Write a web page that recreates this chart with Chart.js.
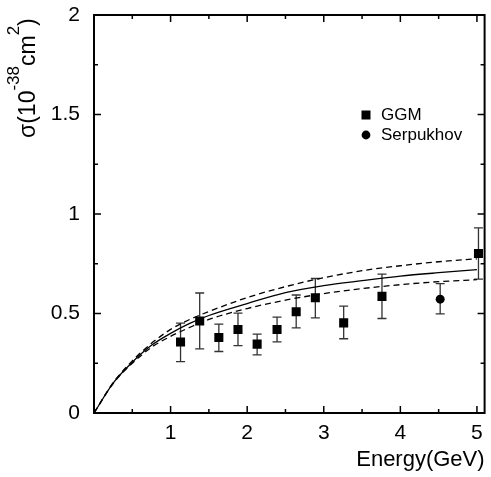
<!DOCTYPE html>
<html lang="en">

    <head>
        <meta charset="UTF-8">
        <title>Cross section vs energy</title>
        <script src="https://cdn.jsdelivr.net/npm/chart.js@4"></script>
        <style>
            body { margin: 0; background: #fff; }
            #wrap { width: 491px; height: 477px; }
        </style>
    </head>

    <body>
        <div id="wrap"><canvas id="sigmaChart"></canvas></div>

        <script>
            const FONT = '"Liberation Sans", Arial, Helvetica, sans-serif';

            // GGM measurements (energy in GeV, sigma in 1e-38 cm^2)
            const ggmEnergy = [1.13, 1.38, 1.63, 1.88, 2.13, 2.39, 2.64, 2.89, 3.26, 3.76, 5.02];
            const ggmSigma = [0.357, 0.462, 0.379, 0.420, 0.346, 0.420, 0.509, 0.579, 0.453, 0.586, 0.802];
            const ggmErrLow = [0.258, 0.322, 0.309, 0.339, 0.292, 0.357, 0.428, 0.478, 0.373, 0.475, 0.673];
            const ggmErrHigh = [0.452, 0.603, 0.447, 0.502, 0.396, 0.482, 0.593, 0.676, 0.537, 0.698, 0.930];

            // Serpukhov point
            const serpEnergy = [4.52];
            const serpSigma = [0.572];
            const serpErrLow = [0.498];
            const serpErrHigh = [0.650];

            // model curves (central + upper/lower band)
            const curveEnergy = [0, 0.25, 0.5, 0.75, 1, 1.25, 1.5, 2, 2.5, 3, 3.5, 4, 4.5, 5];
            const curveMid = [0, 0.150, 0.255, 0.340, 0.400, 0.450, 0.490, 0.550, 0.605, 0.640, 0.665, 0.688, 0.705, 0.720];
            const curveUpper = [0, 0.152, 0.262, 0.350, 0.420, 0.470, 0.510, 0.580, 0.635, 0.680, 0.715, 0.740, 0.760, 0.775];
            const curveLower = [0, 0.148, 0.250, 0.330, 0.385, 0.430, 0.470, 0.525, 0.567, 0.600, 0.625, 0.645, 0.660, 0.670];

            const xTickValues = [1, 2, 3, 4, 5];
            const yTickValues = [0, 0.5, 1, 1.5, 2];

            const toPoints = (xs, ys) => xs.map((x, i) => ({ x: x, y: ys[i] }));

            const errorSets = [
                { x: ggmEnergy, lo: ggmErrLow, hi: ggmErrHigh },
                { x: serpEnergy, lo: serpErrLow, hi: serpErrHigh }
            ];

            const errorBars = {
                id: 'errorBars',
                beforeDatasetsDraw(chart) {
                    const ctx = chart.ctx;
                    const xs = chart.scales.x, ys = chart.scales.y;
                    ctx.save();
                    ctx.strokeStyle = '#333';
                    ctx.lineWidth = 1.3;
                    errorSets.forEach(set => {
                        set.x.forEach((e, i) => {
                            const px = xs.getPixelForValue(e);
                            const top = ys.getPixelForValue(set.hi[i]);
                            const bot = ys.getPixelForValue(set.lo[i]);
                            ctx.beginPath();
                            ctx.moveTo(px, top); ctx.lineTo(px, bot);
                            ctx.moveTo(px - 4.5, top); ctx.lineTo(px + 4.5, top);
                            ctx.moveTo(px - 4.5, bot); ctx.lineTo(px + 4.5, bot);
                            ctx.stroke();
                        });
                    });
                    ctx.restore();
                }
            };

            // frame with inward ticks on all four sides, plus the legend and y title
            const frameAndExtras = {
                id: 'frameAndExtras',
                afterDraw(chart) {
                    const ctx = chart.ctx;
                    const a = chart.chartArea;
                    const xs = chart.scales.x, ys = chart.scales.y;
                    ctx.save();
                    ctx.strokeStyle = '#000';
                    ctx.lineWidth = 2;
                    ctx.strokeRect(a.left, a.top, a.right - a.left, a.bottom - a.top);

                    ctx.lineWidth = 1.5;
                    ctx.beginPath();
                    for (let v = 0.5; v <= 5.01; v += 0.5) {
                        const px = xs.getPixelForValue(v);
                        const len = Math.abs(v - Math.round(v)) < 1e-6 ? 7 : 4;
                        ctx.moveTo(px, a.bottom); ctx.lineTo(px, a.bottom - len);
                        ctx.moveTo(px, a.top); ctx.lineTo(px, a.top + len);
                    }
                    for (let v = 0.25; v < 2; v += 0.25) {
                        const py = ys.getPixelForValue(v);
                        const major = Math.abs(v * 2 - Math.round(v * 2)) < 1e-6;
                        const len = major ? 7 : 4;
                        ctx.moveTo(a.left, py); ctx.lineTo(a.left + len, py);
                        ctx.moveTo(a.right, py); ctx.lineTo(a.right - len, py);
                    }
                    ctx.stroke();

                    // legend inside the plot
                    ctx.fillStyle = '#000';
                    ctx.font = '17px ' + FONT;
                    ctx.textBaseline = 'middle';
                    const ds = chart.data.datasets;
                    ctx.fillRect(366 - 4.5, 115 - 4.5, 9, 9);
                    ctx.fillText(ds[0].label, 381, 115);
                    ctx.beginPath();
                    ctx.arc(366, 135, 4.4, 0, Math.PI * 2);
                    ctx.fill();
                    ctx.fillText(ds[1].label, 381, 135);

                    // y axis title with superscripts, rotated, at top
                    ctx.translate(35, 138);
                    ctx.rotate(-Math.PI / 2);
                    ctx.textBaseline = 'alphabetic';
                    const parts = [
                        { t: 'σ(10', sup: false },
                        { t: '-38', sup: true },
                        { t: 'cm', sup: false },
                        { t: '2', sup: true },
                        { t: ')', sup: false }
                    ];
                    let cx = 0;
                    parts.forEach(p => {
                        ctx.font = (p.sup ? '17px ' : '23px ') + FONT;
                        ctx.fillText(p.t, cx, p.sup ? -16 : 0);
                        cx += ctx.measureText(p.t).width;
                    });
                    ctx.restore();
                }
            };

            const curveStyle = {
                showLine: true,
                pointRadius: 0,
                borderColor: '#000',
                borderWidth: 1.3,
                cubicInterpolationMode: 'monotone',
                fill: false
            };

            new Chart(document.getElementById('sigmaChart'), {
                type: 'scatter',
                data: {
                    datasets: [
                        {
                            label: 'GGM',
                            data: toPoints(ggmEnergy, ggmSigma),
                            pointStyle: 'rect',
                            pointRadius: 6.4,
                            backgroundColor: '#000',
                            borderWidth: 0
                        },
                        {
                            label: 'Serpukhov',
                            data: toPoints(serpEnergy, serpSigma),
                            pointStyle: 'circle',
                            pointRadius: 4.5,
                            backgroundColor: '#000',
                            borderWidth: 0
                        },
                        Object.assign({ label: 'model', data: toPoints(curveEnergy, curveMid) }, curveStyle),
                        Object.assign({ label: 'model upper', data: toPoints(curveEnergy, curveUpper), borderDash: [6, 4] }, curveStyle),
                        Object.assign({ label: 'model lower', data: toPoints(curveEnergy, curveLower), borderDash: [6, 4] }, curveStyle)
                    ]
                },
                options: {
                    responsive: true,
                    maintainAspectRatio: false,
                    devicePixelRatio: 1,
                    animation: false,
                    layout: { padding: { top: 15, right: 2, left: 0, bottom: 0 } },
                    plugins: {
                        legend: { display: false },
                        tooltip: { enabled: false }
                    },
                    scales: {
                        x: {
                            type: 'linear',
                            min: 0,
                            max: 5.1,
                            afterBuildTicks: scale => { scale.ticks = xTickValues.map(v => ({ value: v })); },
                            afterFit: scale => {
                                scale.height = 64;
                                scale.paddingLeft = 0;
                                scale.paddingRight = 0;
                            },
                            grid: { display: false, drawTicks: false },
                            border: { display: false },
                            ticks: {
                                color: '#000',
                                padding: 8,
                                maxRotation: 0,
                                font: { family: FONT, size: 21 }
                            },
                            title: {
                                display: true,
                                text: 'Energy(GeV)',
                                align: 'end',
                                color: '#000',
                                padding: { top: 0, bottom: 4 },
                                font: { family: FONT, size: 22 }
                            }
                        },
                        y: {
                            type: 'linear',
                            min: 0,
                            max: 2,
                            afterBuildTicks: scale => { scale.ticks = yTickValues.map(v => ({ value: v })); },
                            afterFit: scale => {
                                scale.width = 94;
                                scale.paddingTop = 0;
                                scale.paddingBottom = 0;
                            },
                            grid: { display: false, drawTicks: false },
                            border: { display: false },
                            ticks: {
                                color: '#000',
                                padding: 14,
                                font: { family: FONT, size: 21 },
                                callback: v => String(v)
                            }
                        }
                    }
                },
                plugins: [errorBars, frameAndExtras]
            });
        </script>
    </body>

</html>
